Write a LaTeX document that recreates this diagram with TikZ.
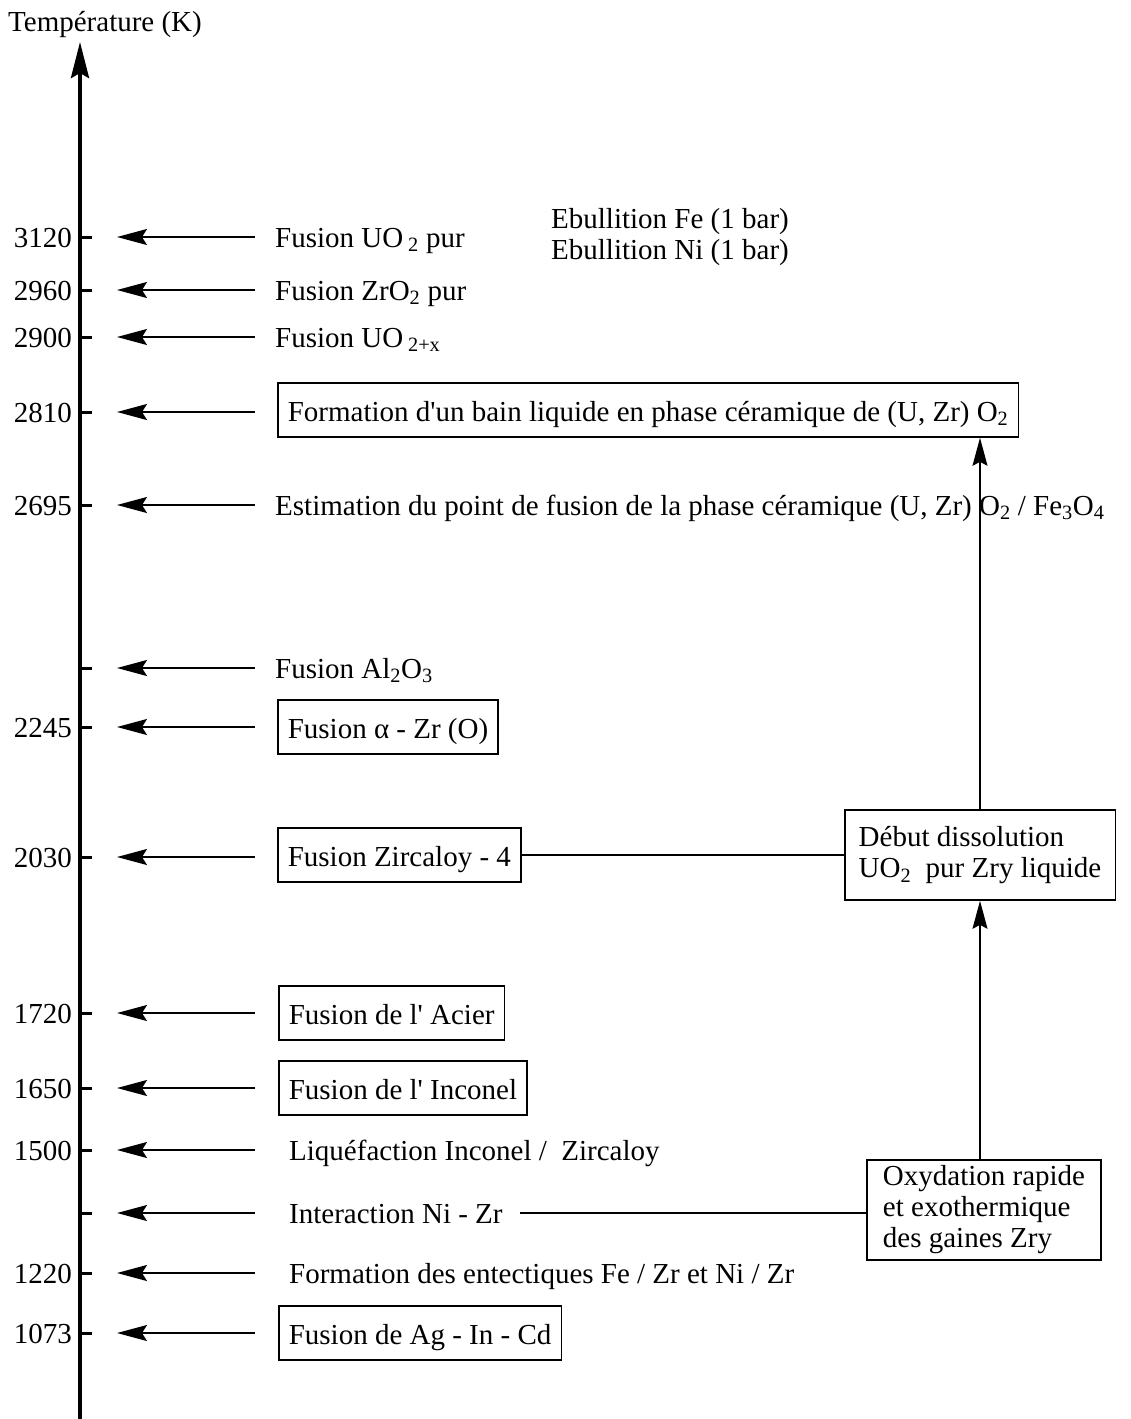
\documentclass[tikz,border=0pt]{standalone}
\usepackage{fontspec}
\setmainfont{Liberation Serif}
\usetikzlibrary{arrows.meta}
\begin{document}
\begin{tikzpicture}[x=1pt,y=-1pt,
 every node/.style={font=\fontsize{29}{31}\selectfont, inner sep=0pt},
 lbl/.style={anchor=base west},
 num/.style={anchor=base east},
 box/.style={draw, line width=1.6pt, inner xsep=10pt, inner ysep=0pt, minimum height=54pt, text height=22pt, text depth=0pt, anchor=west},
 ptr/.style={line width=1.6pt, -{Stealth[length=30pt,width=16pt,inset=5pt]}},
 link/.style={line width=1.6pt},
 up/.style={line width=1.4pt, -{Stealth[length=28pt,width=15pt,inset=4pt]}}
]
\useasboundingbox (0,0) rectangle (1130,1419);

% axis
\coordinate (ax0) at (80,1419);
\coordinate (ax1) at (80,42);
\draw[line width=4pt, -{Stealth[length=36pt,width=18pt,inset=5pt]}] (ax0) -- (ax1);
\node[lbl] (title) at (8,31) {Température (K)};

% ticks, values and arrows
\foreach \i/\y/\v in {1/237/3120, 2/290/2960, 3/337/2900, 4/412/2810, 5/505/2695,
  6/668/{}, 7/727/2245, 8/857/2030, 9/1013/1720, 10/1088/1650, 11/1150/1500,
  12/1213/{}, 13/1273/1220, 14/1333/1073}{
  \coordinate (k\i) at (80,\y);
  \coordinate (ke\i) at (92,\y);
  \draw[line width=3pt] (k\i) -- (ke\i);
  \node[num] (v\i) at (72,\y+10) {\v};
  \coordinate (s\i) at (255,\y);
  \coordinate (t\i) at (117,\y);
  \draw[ptr] (s\i) -- (t\i);
}

% labels
\node[lbl] (l1) at (275,247) {Fusion UO\,\textsubscript{2} pur};
\node[lbl] (l2) at (275,300) {Fusion ZrO\textsubscript{2} pur};
\node[lbl] (l3) at (275,347) {Fusion UO\,\textsubscript{2+x}};
\node[box] (b4) at (277,410) {Formation d\textquotesingle un bain liquide en phase céramique de (U, Zr) O\textsubscript{2}};
\node[lbl] (l5) at (275,515) {Estimation du point de fusion de la phase céramique (U, Zr) O\textsubscript{2} / Fe\textsubscript{3}O\textsubscript{4}};
\node[lbl] (l6) at (275,678) {Fusion Al\textsubscript{2}O\textsubscript{3}};
\node[box] (b7) at (277,727) {Fusion α - Zr (O)};
\node[box] (b8) at (277,855) {Fusion Zircaloy - 4};
\node[box] (b9) at (278,1013) {Fusion de l\textquotesingle\ Acier};
\node[box] (b10) at (278,1088) {Fusion de l\textquotesingle\ Inconel};
\node[lbl] (l11) at (289,1160) {Liquéfaction Inconel /\ \ Zircaloy};
\node[lbl] (l12) at (289,1223) {Interaction Ni - Zr};
\node[lbl] (l13) at (289,1283) {Formation des entectiques Fe / Zr et Ni / Zr};
\node[box] (b14) at (278,1333) {Fusion de Ag - In - Cd};

\node[anchor=north west, align=left] (ebu) at (551,208) {Ebullition Fe (1 bar)\\Ebullition Ni (1 bar)};

\node[draw, line width=1.6pt, inner xsep=14pt, minimum height=90pt, align=left] (deb) at (980,855)
  {Début dissolution\\UO\textsubscript{2}\ \ pur Zry liquide};
\node[draw, line width=1.6pt, inner xsep=16pt, minimum height=100pt, align=left] (oxy) at (984,1210)
  {Oxydation rapide\\et exothermique\\des gaines Zry};

% connectors
\draw[link] (b8.east) -- (deb.west |- b8.east);
\coordinate (nz) at (520,1213);
\draw[link] (nz) -- (nz -| oxy.west);
\draw[up] (deb.south |- oxy.north) -- (deb.south);
\draw[up] (deb.north) -- (deb.north |- b4.south);
\end{tikzpicture}
\end{document}
